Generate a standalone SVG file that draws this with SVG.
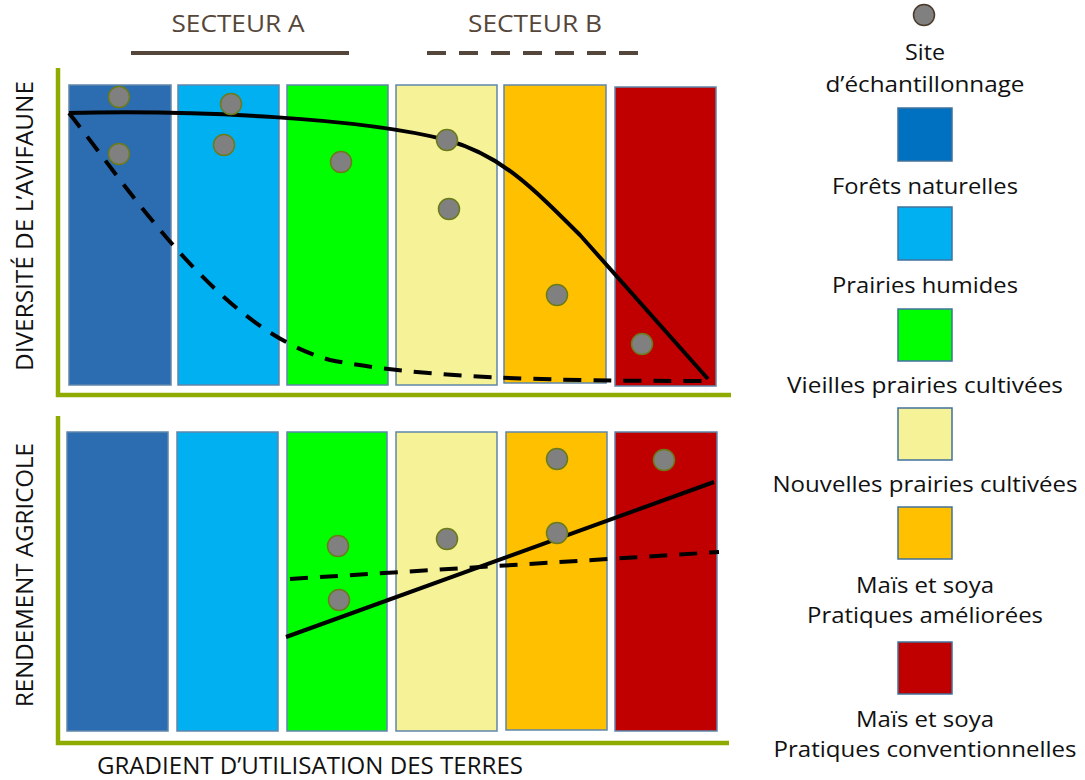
<svg xmlns="http://www.w3.org/2000/svg" width="1085" height="780" viewBox="0 0 1085 780">
<style>
  text { font-family: "Open Sans", "Liberation Sans", sans-serif; }
  .bar { stroke: #5F86AA; stroke-width: 1.5; }
  .c1 { fill: #2C6CB0; }
  .c1l { fill: #0070C0; }
  .c2 { fill: #00B0F0; }
  .c3 { fill: #00FF00; }
  .c4 { fill: #F6F297; }
  .c5 { fill: #FFC000; }
  .c6 { fill: #C00000; }
  .dot { fill: #808080; stroke: #6B7B1A; stroke-width: 1.5; }
  .axis { stroke: #8EAC00; stroke-width: 4.5; fill: none; }
  .curve { stroke: #000; stroke-width: 4; fill: none; }
  .dash { stroke-dasharray: 18 12; }
  .sect { font-size: 24px; fill: #56473A; }
  .lbl { font-size: 22px; fill: #111; text-anchor: middle; }
  .ax { font-size: 23px; fill: #111; text-anchor: middle; }
  .leg { stroke: #41719C; stroke-width: 1.5; }
</style>

<!-- Sector headers -->
<g id="secteurA">
  <text class="sect" x="238" y="32" text-anchor="middle" textLength="133" lengthAdjust="spacingAndGlyphs">SECTEUR A</text>
  <line x1="131" y1="53" x2="349" y2="53" stroke="#54463A" stroke-width="4"/>
</g>
<g id="secteurB">
  <text class="sect" x="535" y="32" text-anchor="middle" textLength="134" lengthAdjust="spacingAndGlyphs">SECTEUR B</text>
  <line x1="427" y1="53" x2="640" y2="53" stroke="#54463A" stroke-width="4" stroke-dasharray="19 13"/>
</g>

<!-- Axes -->
<g id="axes">
  <polyline class="axis" points="58,68 58,395 731,395"/>
  <polyline class="axis" points="58,416 58,743 729,743"/>
  <text class="ax" transform="translate(33,226) rotate(-90)" textLength="290" lengthAdjust="spacingAndGlyphs">DIVERSITÉ DE L’AVIFAUNE</text>
  <text class="ax" transform="translate(33,575) rotate(-90)" textLength="264" lengthAdjust="spacingAndGlyphs">RENDEMENT AGRICOLE</text>
  <text class="ax" x="310" y="774" font-size="24" textLength="426" lengthAdjust="spacingAndGlyphs">GRADIENT D’UTILISATION DES TERRES</text>
</g>

<!-- Top panel bars -->
<g id="top-bar1"><rect class="bar c1" x="69" y="85" width="102" height="300"/></g>
<g id="top-bar2"><rect class="bar c2" x="178" y="85" width="101" height="300"/></g>
<g id="top-bar3"><rect class="bar c3" x="287" y="85" width="101" height="300"/></g>
<g id="top-bar4"><rect class="bar c4" x="396" y="85" width="101" height="300"/></g>
<g id="top-bar5"><rect class="bar c5" x="504" y="85" width="102" height="298"/></g>
<g id="top-bar6"><rect class="bar c6" x="615" y="87" width="101" height="299"/></g>

<!-- Bottom panel bars -->
<g id="bot-bar1"><rect class="bar c1" x="67" y="432" width="101" height="299"/></g>
<g id="bot-bar2"><rect class="bar c2" x="177" y="432" width="101" height="299"/></g>
<g id="bot-bar3"><rect class="bar c3" x="287" y="432" width="100" height="299"/></g>
<g id="bot-bar4"><rect class="bar c4" x="396" y="432" width="101" height="299"/></g>
<g id="bot-bar5"><rect class="bar c5" x="506" y="432" width="101" height="298"/></g>
<g id="bot-bar6"><rect class="bar c6" x="615" y="432" width="102" height="299"/></g>

<!-- Curves -->
<g id="connectors">
  <path class="curve" d="M69,113 C200,110 360,118 447,140 C500,155 530,185 580,235 L708,379"/>
  <path class="curve dash" d="M69,113 C130,190 220,330 330,360 C420,378 550,381 705,381"/>
  <path class="curve" d="M286,637 L714,482"/>
  <path class="curve dash" d="M290,579 L719,552"/>
</g>

<!-- Sample dots -->
<g id="sites-top">
  <circle class="dot" cx="119" cy="97" r="10.5"/>
  <circle class="dot" cx="119" cy="154" r="10.5"/>
  <circle class="dot" cx="231" cy="104" r="10.5"/>
  <circle class="dot" cx="224" cy="145" r="10.5"/>
  <circle class="dot" cx="341" cy="162" r="10.5"/>
  <circle class="dot" cx="447" cy="140" r="10.5"/>
  <circle class="dot" cx="449" cy="209" r="10.5"/>
  <circle class="dot" cx="557" cy="295" r="10.5"/>
  <circle class="dot" cx="642" cy="344" r="10.5"/>
</g>
<g id="sites-bottom">
  <circle class="dot" cx="338" cy="546" r="10.5"/>
  <circle class="dot" cx="339" cy="600" r="10.5"/>
  <circle class="dot" cx="447" cy="539" r="10.5"/>
  <circle class="dot" cx="557" cy="459" r="10.5"/>
  <circle class="dot" cx="557" cy="533" r="10.5"/>
  <circle class="dot" cx="664" cy="460" r="10.5"/>
</g>

<!-- Legend -->
<g id="legend-site">
  <circle cx="924" cy="15" r="10.5" fill="#808080" stroke="#4B3A2A" stroke-width="1.5"/>
  <text class="lbl" x="925" y="60" textLength="40" lengthAdjust="spacingAndGlyphs">Site</text>
  <text class="lbl" x="925" y="92" textLength="199" lengthAdjust="spacingAndGlyphs">d’échantillonnage</text>
</g>
<g id="legend-forets">
  <rect class="leg c1l" x="898" y="108" width="54" height="53"/>
  <text class="lbl" x="925" y="194" textLength="186" lengthAdjust="spacingAndGlyphs">Forêts naturelles</text>
</g>
<g id="legend-prairies-humides">
  <rect class="leg c2" x="898" y="207" width="54" height="53"/>
  <text class="lbl" x="925" y="293" textLength="186" lengthAdjust="spacingAndGlyphs">Prairies humides</text>
</g>
<g id="legend-vieilles">
  <rect class="leg c3" x="898" y="309" width="54" height="52"/>
  <text class="lbl" x="925" y="393" textLength="276" lengthAdjust="spacingAndGlyphs">Vieilles prairies cultivées</text>
</g>
<g id="legend-nouvelles">
  <rect class="leg c4" x="898" y="408" width="54" height="52"/>
  <text class="lbl" x="925" y="492" textLength="305" lengthAdjust="spacingAndGlyphs">Nouvelles prairies cultivées</text>
</g>
<g id="legend-ameliorees">
  <rect class="leg c5" x="898" y="507" width="54" height="52"/>
  <text class="lbl" x="925" y="593" textLength="138" lengthAdjust="spacingAndGlyphs">Maïs et soya</text>
  <text class="lbl" x="925" y="623" textLength="236" lengthAdjust="spacingAndGlyphs">Pratiques améliorées</text>
</g>
<g id="legend-conventionnelles">
  <rect class="leg c6" x="898" y="642" width="54" height="52"/>
  <text class="lbl" x="925" y="727" textLength="138" lengthAdjust="spacingAndGlyphs">Maïs et soya</text>
  <text class="lbl" x="925" y="757" textLength="303" lengthAdjust="spacingAndGlyphs">Pratiques conventionnelles</text>
</g>
</svg>
